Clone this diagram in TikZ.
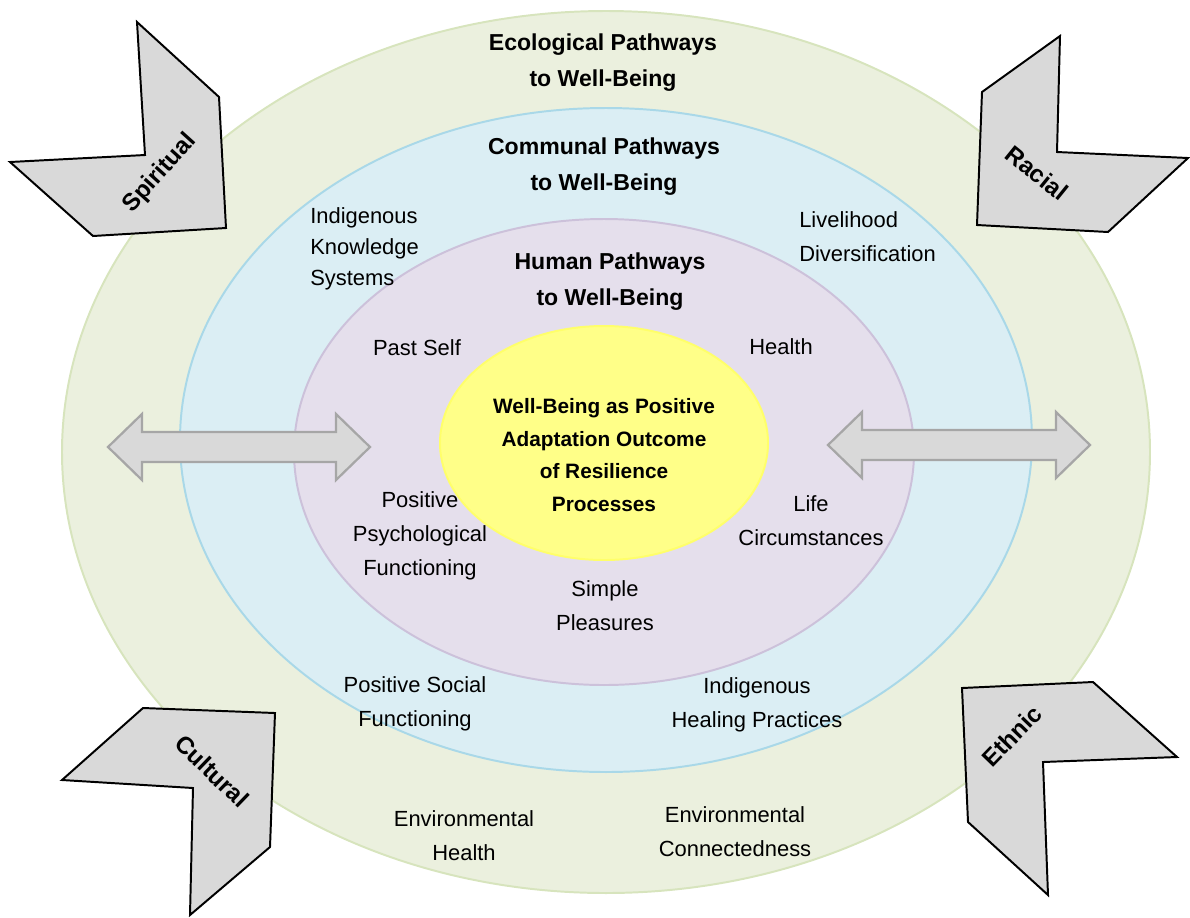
\documentclass[tikz,border=0pt]{standalone}
\usepackage{fontspec}
\setmainfont{Liberation Sans}
\usetikzlibrary{positioning}

\definecolor{ecoFill}{HTML}{EBF0DE}
\definecolor{ecoLine}{HTML}{D7E4BD}
\definecolor{comFill}{HTML}{DBEEF4}
\definecolor{comLine}{HTML}{A9D8E8}
\definecolor{humFill}{HTML}{E5DFEC}
\definecolor{humLine}{HTML}{CCC1DA}
\definecolor{coreFill}{HTML}{FFFF88}
\definecolor{coreLine}{HTML}{FFFF6A}
\definecolor{chevFill}{HTML}{D9D9D9}
\definecolor{arrLine}{HTML}{A6A6A6}

\begin{document}
\begin{tikzpicture}[
  x=0.025cm, y=-0.025cm,
  every node/.style={font=\fontsize{15.6}{24.3}\selectfont, align=center, inner sep=0pt},
  ring/.style={line width=1.4pt},
  ringtitle/.style={font=\bfseries\fontsize{16.4}{25.5}\selectfont},
  chevron/.style={fill=chevFill, draw=black, line width=1.4pt, line join=miter},
  chevtext/.style={font=\bfseries\fontsize{17.2}{20}\selectfont},
  dblarrow/.style={fill=chevFill, draw=arrLine, line width=1.6pt, line join=miter}]

\useasboundingbox (0,0) rectangle (1190,917);

% --- Nested pathway rings ---
\draw[ring, fill=ecoFill, draw=ecoLine] (606,452) ellipse [x radius=544, y radius=441];
\draw[ring, fill=comFill, draw=comLine] (606,440) ellipse [x radius=426, y radius=332];
\draw[ring, fill=humFill, draw=humLine] (604,452) ellipse [x radius=310, y radius=233];
\draw[ring, fill=coreFill, draw=coreLine] (604,443) ellipse [x radius=164, y radius=117];

% --- Ring titles ---
\node[ringtitle] (eco) at (603,63) {Ecological Pathways\\to Well-Being};
\node[ringtitle] (com) at (604,167) {Communal Pathways\\to Well-Being};
\node[ringtitle] (hum) at (610,282) {Human Pathways\\to Well-Being};

% --- Core outcome ---
\node[font=\bfseries\fontsize{14.8}{23.3}\selectfont] (core) at (604,455)
  {Well-Being as Positive\\Adaptation Outcome\\of Resilience\\Processes};

% --- Human pathways ---
\node (past)   at (417,348) {Past Self};
\node (health) at (781,347) {Health};
\node (psych)  at (420,536) {Positive\\Psychological\\Functioning};
\node (life)   at (811,521) {Life\\Circumstances};
\node (simple) at (605,606) {Simple\\Pleasures};

% --- Communal pathways ---
\node[align=left, anchor=west, font=\fontsize{15.6}{22}\selectfont] (iks) at (310,249)
  {Indigenous\\Knowledge\\Systems};
\node[align=left, anchor=west] (liveli) at (799,237) {Livelihood\\Diversification};
\node (social) at (415,704) {Positive Social\\Functioning};
\node (healing) at (757,705) {Indigenous\\Healing Practices};

% --- Ecological pathways ---
\node (envh) at (464,836) {Environmental\\Health};
\node (envc) at (735,832) {Environmental\\Connectedness};

% --- Two-way arrows ---
\foreach \xa/\xb/\yc in {108/370/447, 828/1090/445}
  \draw[dblarrow] (\xa,\yc) -- (\xa+34,\yc-33) -- (\xa+34,\yc-15) -- (\xb-34,\yc-15)
    -- (\xb-34,\yc-33) -- (\xb,\yc) -- (\xb-34,\yc+33) -- (\xb-34,\yc+15)
    -- (\xa+34,\yc+15) -- (\xa+34,\yc+33) -- cycle;

% --- Corner chevrons ---
\draw[chevron] (137,22) -- (219,97) -- (226,228) -- (93,236) -- (10,162) -- (145,155) -- cycle;
\draw[chevron] (1060,36) -- (982,92) -- (977,225) -- (1108,232) -- (1188,158) -- (1057,152) -- cycle;
\draw[chevron] (143,708) -- (275,713) -- (270,847) -- (190,915) -- (193,788) -- (62,780) -- cycle;
\draw[chevron] (962,688) -- (1093,682) -- (1177,757) -- (1043,762) -- (1048,895) -- (968,822) -- cycle;

\node[chevtext, rotate=48]  (spirit)  at (160,173)  {Spiritual};
\node[chevtext, rotate=-39] (racial)  at (1037,173) {Racial};
\node[chevtext, rotate=-44] (cultural) at (212,771) {Cultural};
\node[chevtext, rotate=46]  (ethnic)  at (1012,736) {Ethnic};

\end{tikzpicture}
\end{document}
